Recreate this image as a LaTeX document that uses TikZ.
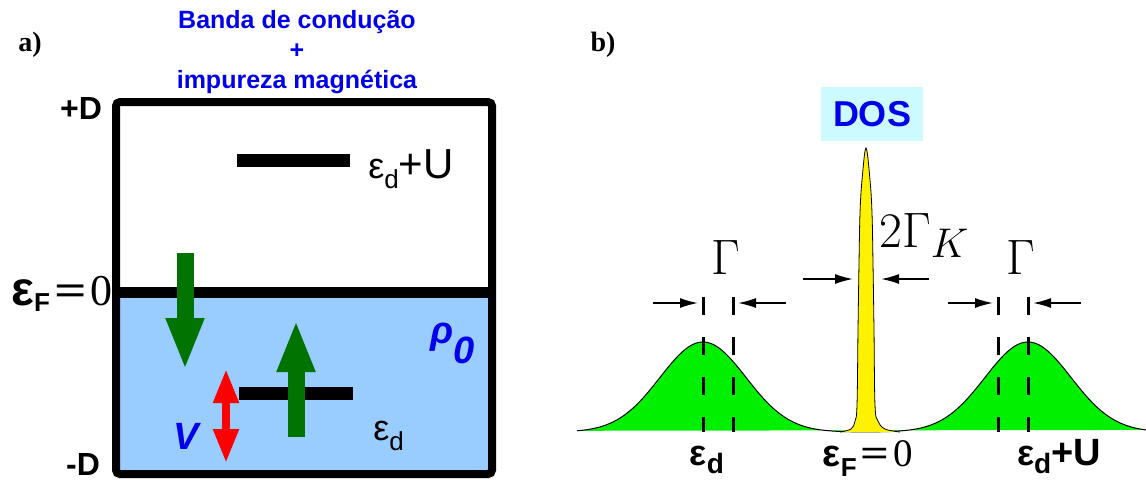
\documentclass[tikz,border=0pt]{standalone}
\usepackage{fontspec}
\usepackage{graphicx}
\setmainfont{Liberation Sans}
\newfontfamily\timesfont{Liberation Serif}
\usetikzlibrary{arrows.meta}
\definecolor{bandblue}{RGB}{153,204,255}
\definecolor{spingreen}{RGB}{0,115,0}
\definecolor{peakgreen}{RGB}{0,240,0}
\definecolor{doscyan}{RGB}{204,250,255}
\definecolor{labelblue}{RGB}{0,0,235}
\newcommand{\fsz}[1]{\fontsize{#1}{#1}\selectfont}
\newcommand{\lowsub}[2]{\raisebox{-#1}{#2}}
\newcommand{\efzero}[3]{{\bfseries\fsz{#1}ε}\lowsub{#3}{\bfseries\fsz{13}F}\hspace{2pt}{\timesfont\fsz{#2}\scalebox{1.3}[1]{\bfseries =}\hspace{2pt}0}}
\tikzset{
  spin/.style={spingreen, line width=8.5pt, -{Triangle[width=17.5pt,length=26pt]}},
  hyb/.style={red, line width=4pt, {Triangle[width=12pt,length=17pt]}-{Triangle[width=12pt,length=17pt]}},
  levelbar/.style={line width=6.5pt},
  gaparrow/.style={line width=0.8pt, -{Latex[length=9pt,width=5pt]}},
  halfwidth/.style={line width=1.5pt, dash pattern=on 9pt off 11pt},
  declare function={gs(\t)=exp(-(\t*\t)/2);}
}
\begin{document}
\begin{tikzpicture}[x=0.5pt, y=-0.5pt]
\useasboundingbox (0,0) rectangle (1146,479);
\fill[bandblue] (116,292) rectangle (492,474);
\draw[line width=4pt, rounded corners=2pt] (116,102) rectangle (492,474);
\draw[line width=5.5pt] (114,292) -- (496,292);
\draw[levelbar] (237,160) -- (350,160);
\draw[levelbar] (239,393) -- (353,393);
\coordinate (dnTop) at (185,253);
\coordinate (dnTip) at (185,370);
\coordinate (upBot) at (296,437);
\coordinate (upTip) at (296,320);
\coordinate (hybTop) at (226,369);
\coordinate (hybBot) at (226,463);
\draw[spin] (dnTop) -- (dnTip);
\draw[spin] (upBot) -- (upTip);
\draw[hyb] (hybTop) -- (hybBot);
\node[labelblue, font=\bfseries\fontsize{12.5}{15}\selectfont, align=center] (title) at (297,52) {Banda de condução\\+\\impureza magnética};
\node[font=\timesfont\bfseries\fsz{14}] (lblA) at (30,45) {a)};
\node[font=\timesfont\bfseries\fsz{14}] (lblB) at (603,45) {b)};
\node[font=\bfseries\fsz{16}] (plusD) at (81,108) {+D};
\node[font=\bfseries\fsz{16}, inner sep=0] (minusD) at (83,464) {-D};
\node[anchor=base west, inner sep=0] (efA) at (11,305) {\efzero{24}{22}{3pt}};
\node[anchor=base west, inner sep=0, font=\fsz{21}] (edUA) at (368,178) {{\fsz{18}ε}\lowsub{5pt}{\fsz{13}d}+U};
\node[anchor=base west, inner sep=0, font=\fsz{21}] (edA) at (373,440) {{\fsz{18}ε}\lowsub{5pt}{\fsz{13}d}};
\node[labelblue, font=\bfseries\itshape\fsz{19}] (hybV) at (186,436) {V};
\node[labelblue, anchor=base west, inner sep=0, font=\bfseries\itshape\fsz{19}] (rho) at (430,343) {ρ\lowsub{10pt}{0}};
\fill[peakgreen] plot[domain=577:1146, samples=240] (\x,{432-90*gs((\x-703)/43)-90*gs((\x-1028)/43)}) -- cycle;
\draw[line width=0.5pt] plot[domain=577:1146, samples=240] (\x,{432-90*gs((\x-703)/43)-90*gs((\x-1028)/43)});
\fill[yellow] plot[smooth, tension=0.6] coordinates {(840,432) (851,429) (855,421) (857,405) (858,330) (859,263) (860,213) (862,180) (866,148) (870,180) (872,213) (873,263) (874,330) (875,405) (878,421) (885,429) (900,432)} -- cycle;
\draw[line width=0.4pt] plot[smooth, tension=0.6] coordinates {(840,432) (851,429) (855,421) (857,405) (858,330) (859,263) (860,213) (862,180) (866,148) (870,180) (872,213) (873,263) (874,330) (875,405) (878,421) (885,429) (900,432)};
\foreach \c/\n in {703/L,998/R}{
  \coordinate (\n1t) at (\c,297);
  \coordinate (\n1b) at (\c,432);
  \coordinate (\n2t) at (\c+30,297);
  \coordinate (\n2b) at (\c+30,432);
  \coordinate (\n ina) at (\c-50,303);
  \coordinate (\n inb) at (\c-5,303);
  \coordinate (\n outa) at (\c+83,303);
  \coordinate (\n outb) at (\c+35,303);
  \draw[halfwidth] (\n1t) -- (\n1b);
  \draw[halfwidth] (\n2t) -- (\n2b);
  \draw[gaparrow] (\n ina) -- (\n inb);
  \draw[gaparrow] (\n outa) -- (\n outb);
  \node[font=\fsz{23}] (gam\n) at (\c+23,257) {$\Gamma$};
}
\coordinate (kLa) at (803,279);
\coordinate (kLb) at (853,279);
\coordinate (kRa) at (929,279);
\coordinate (kRb) at (881,279);
\draw[gaparrow] (kLa) -- (kLb);
\draw[gaparrow] (kRa) -- (kRb);
\node[anchor=base west, inner sep=0, font=\fsz{25}] (gamK) at (879,247) {$2\Gamma$\lowsub{5pt}{\fsz{20}$K$}};
\node[fill=doscyan, minimum width=51pt, minimum height=27pt, inner sep=0, text=labelblue, font=\bfseries\fsz{18}] (dos) at (872,114) {DOS};
\node[anchor=base, font=\bfseries] (edB) at (707,465) {{\fsz{18}ε}\lowsub{4pt}{\fsz{14}d}};
\node[anchor=base] (efB) at (868,466) {\efzero{19}{19.5}{5pt}};
\node[anchor=base, font=\bfseries] (edUB) at (1059,465) {{\fsz{18}ε}\lowsub{4pt}{\fsz{14}d}{\fsz{19}+U}};
\end{tikzpicture}
\end{document}
